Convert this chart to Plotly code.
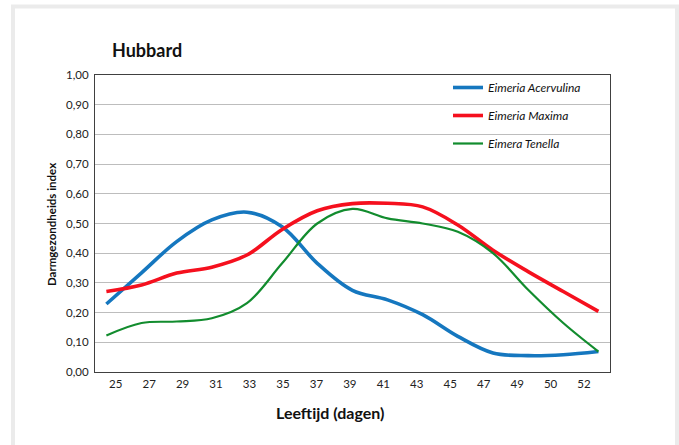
import plotly.graph_objects as go

ages = ["25", "27", "29", "31", "33", "35", "37", "39", "41", "43", "45", "47", "49", "50", "52"]
acervulina = [0.229, 0.334, 0.439, 0.512, 0.538, 0.489, 0.366, 0.275, 0.243, 0.193, 0.120, 0.064, 0.055, 0.058, 0.069]
maxima = [0.271, 0.293, 0.333, 0.353, 0.394, 0.480, 0.543, 0.567, 0.568, 0.556, 0.495, 0.410, 0.338, 0.271, 0.204]
tenella = [0.123, 0.165, 0.170, 0.181, 0.232, 0.366, 0.500, 0.549, 0.517, 0.500, 0.472, 0.400, 0.277, 0.165, 0.069]

series = [
    ("Eimeria Acervulina", acervulina, "#1577BF", 3.6),
    ("Eimeria Maxima", maxima, "#F5101E", 3.6),
    ("Eimera Tenella", tenella, "#128C2E", 2.2),
]

W, H = 679, 445
L, R, T, B = 95, 610, 75, 372  # plot area in page px

fig = go.Figure()
idx = list(range(len(ages)))
for i, (name, vals, col, w) in enumerate(series):
    fig.add_trace(go.Scatter(
        x=idx, y=vals, name=name, mode="lines", xaxis="x",
        line=dict(color=col, width=w, shape="spline", smoothing=1.0),
        legendgroup=f"g{i}",
    ))
# invisible carrier trace for the category label axis
fig.add_trace(go.Scatter(x=idx, y=[None] * len(idx), xaxis="x2", mode="lines",
                         showlegend=False, hoverinfo="skip"))


def px2x(px):
    return (px - L) / (R - L)


def py2y(py):
    return (B - py) / (B - T)


font = "Lato, 'Open Sans', sans-serif"

fig.update_layout(
    width=W, height=H,
    margin=dict(l=L, r=W - R, t=T, b=H - B, pad=0),
    paper_bgcolor="white", plot_bgcolor="white",
    separators=",.",
    font=dict(family=font, color="#222222", size=12),
    showlegend=True,
    legend=dict(
        x=px2x(448), y=py2y(73), xanchor="left", yanchor="top",
        bgcolor="rgba(0,0,0,0)", borderwidth=0,
        font=dict(family=font, size=12, color="#111111", style="italic"),
        tracegroupgap=9, itemwidth=30,
    ),
    xaxis=dict(
        range=[-0.324, 14.33], showticklabels=False,
        showgrid=False, zeroline=False, showline=True, linecolor="#404040",
        linewidth=1.2, mirror=True, ticks="",
    ),
    xaxis2=dict(
        overlaying="x", anchor="y", side="bottom",
        range=[-0.618, 14.776], tickmode="array", tickvals=idx, ticktext=ages,
        showgrid=False, zeroline=False, showline=False, ticks="",
        ticklabelstandoff=3, tickfont=dict(size=11.5, color="#222222"),
    ),
    yaxis=dict(
        range=[0, 1], dtick=0.1, tickformat=".2f",
        showgrid=True, gridcolor="#BDBDBD", gridwidth=1,
        zeroline=False, showline=True, linecolor="#404040", linewidth=1.2,
        mirror=True, ticks="", ticklabelstandoff=3,
        tickfont=dict(size=11.5, color="#222222"),
    ),
    shapes=[
        dict(type="rect", xref="paper", yref="paper", layer="below",
             x0=px2x(13), x1=px2x(677), y0=py2y(452), y1=py2y(6.5),
             line=dict(color="#EBEBEB", width=4), fillcolor="rgba(0,0,0,0)"),
    ],
    annotations=[
        dict(text="<b>Hubbard</b>", xref="paper", yref="paper",
             x=px2x(110), y=py2y(50), xanchor="left", yanchor="middle",
             showarrow=False, font=dict(family=font, size=18, color="#111111")),
        dict(text="<b>Leeftijd (dagen)</b>", xref="paper", yref="paper",
             x=px2x(330), y=py2y(412), xanchor="center", yanchor="middle",
             showarrow=False, font=dict(family=font, size=16, color="#111111")),
        dict(text="<b>Darmgezondheids index</b>", xref="paper", yref="paper",
             x=px2x(52), y=py2y(225), xanchor="center", yanchor="middle",
             textangle=-90, showarrow=False,
             font=dict(family=font, size=11.5, color="#111111")),
    ],
)

fig.write_html(
    "out.html",
    config={"displayModeBar": False},
    post_script="document.body.style.margin='0';document.body.style.overflow='hidden';",
)
